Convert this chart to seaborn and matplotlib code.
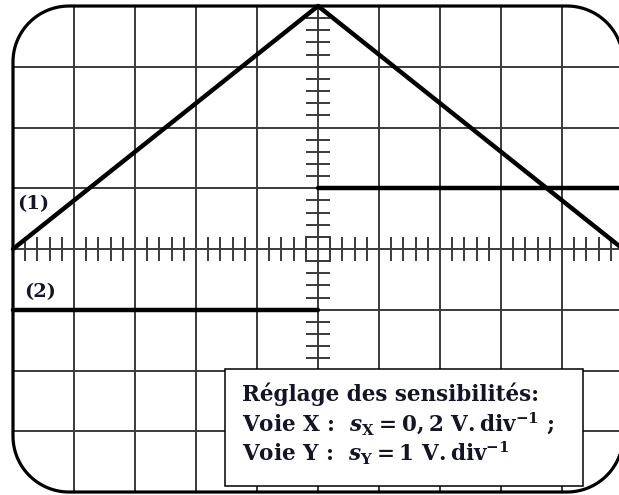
import numpy as np
import matplotlib
matplotlib.use("Agg")
import matplotlib.pyplot as plt
import seaborn as sns
from matplotlib.patches import Polygon, Rectangle

# Oscillogram (in divisions, origin at screen centre)
tri_x = [-5, 0, 5]          # curve (1): triangle
tri_y = [0, 4, 0]
low_x = [-5, 0]             # curve (2): low level
low_y = [-1, -1]
high_x = [0, 5]             # high level
high_y = [1, 1]

label_names = ["(1)", "(2)"]
label_x = [-4.67, -4.56]
label_y = [0.74, -0.71]

box_lines = [
    "Réglage des sensibilités:",
    r"Voie X :  $s_{\mathrm{X}} = 0,2\ \mathrm{V.div}^{-1}$ ;",
    r"Voie Y :  $s_{\mathrm{Y}} = 1\ \mathrm{V.div}^{-1}$",
]

sns.set_style("white")
plt.rcParams["font.family"] = ["DejaVu Serif"]
plt.rcParams["mathtext.fontset"] = "custom"
plt.rcParams["mathtext.rm"] = "DejaVu Serif:bold"
plt.rcParams["mathtext.it"] = "DejaVu Serif:italic:bold"
plt.rcParams["mathtext.bf"] = "DejaVu Serif:bold"

fig = plt.figure(figsize=(6.19, 4.95), dpi=100)
ax = fig.add_axes([0, 0, 1, 1])
ax.set_xlim(-5.213, 4.934)
ax.set_ylim(-4.049, 4.099)
ax.axis("off")

grid_col = "#3a3a3a"

# screen outline with rounded corners
r = 0.92
outline = []
for (cx, cy), a0 in [((5 - r, 4 - r), 0), ((-5 + r, 4 - r), 90),
                     ((-5 + r, -4 + r), 180), ((5 - r, -4 + r), 270)]:
    ang = np.radians(np.linspace(a0, a0 + 90, 30))
    outline += list(zip(cx + r * np.cos(ang), cy + r * np.sin(ang)))
screen = Polygon(outline, closed=True, fc="none", ec="black", lw=2.3, zorder=5)
ax.add_patch(screen)

# graticule
vl = ax.vlines(np.arange(-5, 6), -4, 4, color=grid_col, lw=1.4, zorder=1)
hl = ax.hlines(np.arange(-4, 5), -5, 5, color=grid_col, lw=1.4, zorder=1)
vl.set_clip_path(screen)
hl.set_clip_path(screen)

# sub-division ticks on the central axes
sub_x = [v for v in np.round(np.arange(-5, 5.01, 0.2), 1) if abs(v - round(v)) > 1e-6]
sub_y = [v for v in np.round(np.arange(-4, 4.01, 0.2), 1) if abs(v - round(v)) > 1e-6]
ax.vlines(sub_x, -0.2, 0.2, color=grid_col, lw=1.4, zorder=1)
ax.hlines(sub_y, -0.2, 0.2, color=grid_col, lw=1.4, zorder=1)
ax.add_patch(Rectangle((-0.2, -0.2), 0.4, 0.4, fc="none", ec=grid_col, lw=1.4, zorder=1))

# signals
for xs, ys in [(tri_x, tri_y), (low_x, low_y), (high_x, high_y)]:
    sns.lineplot(x=xs, y=ys, ax=ax, color="black", lw=3.2, sort=False,
                 estimator=None, zorder=3)

for name, lx, ly in zip(label_names, label_x, label_y):
    ax.text(lx, ly, name, fontsize=14, fontweight="bold", color="#15152a",
            ha="center", va="center", zorder=4)

# settings box
ax.add_patch(Rectangle((-1.525, -3.90), 5.87, 1.925, fc="white", ec="black",
                       lw=1.1, zorder=6))
for i, line in enumerate(box_lines):
    ax.text(-1.246, -2.50 - 0.495 * i, line, fontsize=15.5, fontweight="bold",
            color="#141428", ha="left", va="baseline", zorder=7)

fig.savefig("out.png", dpi=100)
